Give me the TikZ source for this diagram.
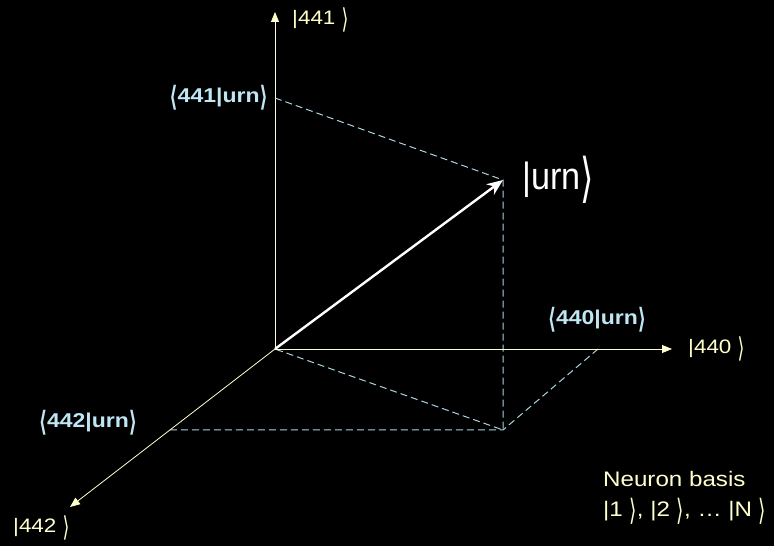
\documentclass[tikz,border=0pt]{standalone}
\usepackage{fontspec}
\setmainfont{Liberation Sans}[FakeStretch=1.15]
\newfontfamily\brkfont{DejaVu Sans}
\newfontfamily\urnfont{Liberation Sans}[FakeStretch=0.9]
\newcommand{\lbrk}{\raisebox{-0.2em}{\scalebox{0.9}[1.4]{\brkfont ⟨}}}
\newcommand{\rbrk}{\raisebox{-0.2em}{\scalebox{0.9}[1.4]{\brkfont ⟩}}}
\usetikzlibrary{arrows.meta}
\definecolor{axCream}{HTML}{FFFFCC}
\definecolor{prjBlue}{HTML}{AAD4E2}
\definecolor{lblBlue}{HTML}{BFE6F2}

\begin{document}
\begin{tikzpicture}[x=1pt,y=1pt,
  ax/.style={draw=axCream,line width=0.8pt,-{Triangle[length=10pt,width=8pt]}},
  vec/.style={draw=white,line width=2.4pt,-{Stealth[length=16pt,width=13pt]}},
  prj/.style={draw=prjBlue,line width=1pt,dash pattern=on 7pt off 4pt},
  ket/.style={text=axCream,font=\fontsize{19.5}{23}\selectfont,inner sep=0pt},
  amp/.style={text=lblBlue,font=\fontsize{20}{24}\selectfont\bfseries,inner sep=0pt}]
  \fill[black] (0,0) rectangle (774,546);
  \useasboundingbox (0,0) rectangle (774,546);
  % axes and state vector
  \coordinate (o) at (275,197);
  \coordinate (xtip) at (672,197);
  \coordinate (ytip) at (275,534);
  \coordinate (ztip) at (70,39);
  \coordinate (v) at (503,366);
  \coordinate (p) at (503,116);
  \coordinate (yp) at (275,448);
  \coordinate (xp) at (598,197);
  \coordinate (zp) at (167,116);
  \draw[prj] (yp) -- (v) -- (p) -- (o);
  \draw[prj] (xp) -- (p) -- (zp);
  \draw[ax] (o) -- (xtip);
  \draw[ax] (o) -- (ytip);
  \draw[ax] (o) -- (ztip);
  \draw[vec] (o) -- (v);
  % labels
  \node[ket,anchor=west] (k441) at (292,526) {|441 \rbrk};
  \node[ket,anchor=west] (k440) at (688,197) {|440 \rbrk};
  \node[ket,anchor=west] (k442) at (13,18) {|442 \rbrk};
  \node[ket,anchor=west,text=white,font=\fontsize{38}{40}\urnfont] (urn) at (522,366) {|urn\rbrk};
  \node[amp,anchor=east] (a441) at (268,448) {\lbrk441|urn\rbrk};
  \node[amp] (a440) at (597,226) {\lbrk440|urn\rbrk};
  \node[amp] (a442) at (88,123) {\lbrk442|urn\rbrk};
  \node[ket,anchor=north west,align=left,font=\fontsize{21}{30}\selectfont] (basis) at (603,75) {Neuron basis\\|1 \rbrk, |2 \rbrk, … |N \rbrk};
\end{tikzpicture}
\end{document}
